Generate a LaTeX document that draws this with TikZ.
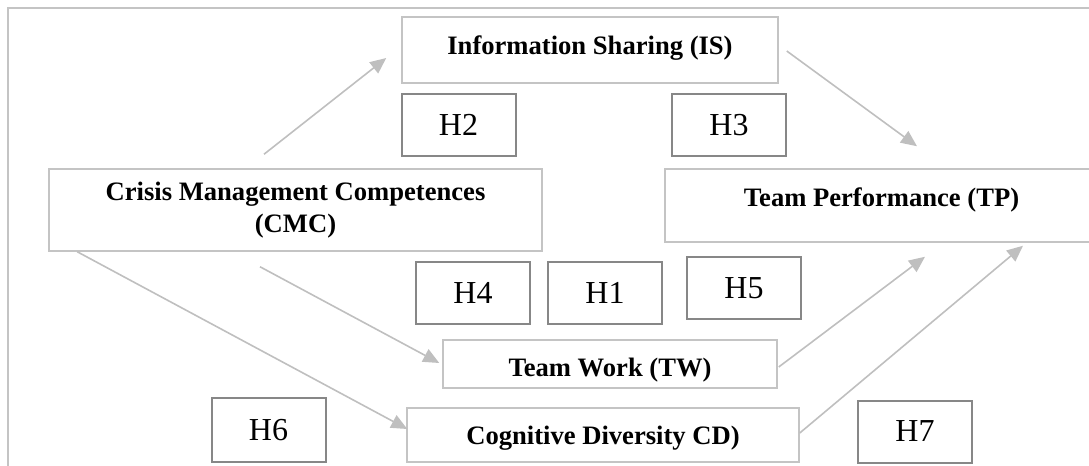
\documentclass[tikz,border=0pt]{standalone}
\usepackage{fontspec}
\setmainfont{Liberation Serif}
\usetikzlibrary{arrows.meta}
\definecolor{boxgray}{HTML}{C4C4C4}
\definecolor{hypgray}{HTML}{878787}
\definecolor{arrgray}{HTML}{BFBFBF}

\begin{document}
\begin{tikzpicture}[x=0.5pt, y=-0.5pt,
  construct/.style={rectangle, draw=boxgray, line width=0.75pt, inner sep=0pt,
                    align=center, font=\fontsize{13.3}{16}\selectfont\bfseries},
  hyp/.style={rectangle, draw=hypgray, line width=1pt, inner sep=0pt,
              minimum width=57pt, minimum height=31pt,
              font=\fontsize{16}{19}\selectfont},
  arr/.style={-{Triangle[length=8pt, width=7pt]}, draw=arrgray, line width=0.8pt},
  frameline/.style={draw=boxgray, line width=1pt}
]
  \clip (0,0) rectangle (1089,466);

  % Outer frame
  \draw[frameline] (8,500) |- (1120,8);

  % Constructs
  \node[construct, minimum width=188pt, minimum height=33pt, text depth=5pt]
    (is) at (590, 50) {Information Sharing (IS)};
  \node[construct, minimum width=246.5pt, minimum height=41pt]
    (cmc) at (295.5, 210) {Crisis Management Competences\\(CMC)};
  \node[construct, minimum width=216.5pt, minimum height=36.5pt, text depth=8.7pt]
    (tp) at (881.5, 205.5) {Team Performance (TP)};
  \node[construct, minimum width=167pt, minimum height=24pt, text height=15.6pt]
    (tw) at (610, 364) {Team Work (TW)};
  \node[construct, minimum width=196pt, minimum height=27pt, text height=12.9pt]
    (cd) at (603, 435) {Cognitive Diversity CD)};

  % Hypotheses
  \node[hyp] (h2) at (458.5, 125) {H2};
  \node[hyp] (h3) at (729, 125) {H3};
  \node[hyp] (h4) at (473, 292.5) {H4};
  \node[hyp] (h1) at (605, 292.5) {H1};
  \node[hyp] (h5) at (744, 288) {H5};
  \node[hyp, minimum height=32pt] (h6) at (268.5, 430) {H6};
  \node[hyp] (h7) at (915, 431.5) {H7};

  % Paths
  \draw[arr] ([shift={(-31.5,-14)}]cmc.north) -- ([shift={(-15,8)}]is.west);
  \draw[arr] ([shift={(8,1)}]is.east) -- ([shift={(35.5,-22)}]tp.north);
  \draw[arr] ([shift={(-35.5,15)}]cmc.south) -- ([shift={(-3,-1)}]tw.west);
  \draw[arr] ([shift={(29,0)}]cmc.south west) -- ([shift={(1,-6)}]cd.west);
  \draw[arr] ([shift={(1,3)}]tw.east) -- ([shift={(43.5,14)}]tp.south);
  \draw[arr] ([shift={(0,-2)}]cd.east) -- ([shift={(141.5,3)}]tp.south);
\end{tikzpicture}
\end{document}
